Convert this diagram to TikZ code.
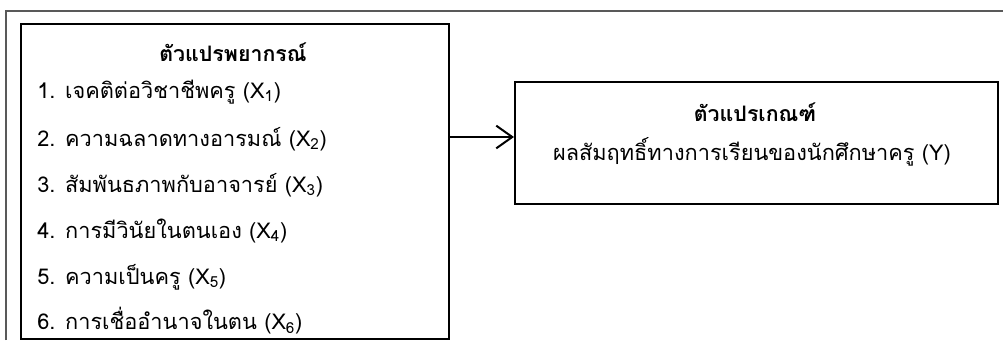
\documentclass[tikz,border=0pt]{standalone}
\usepackage{fontspec}
\newfontfamily\thaifont[Script=Thai]{Loma}
\usepackage{tikz}
\usetikzlibrary{arrows.meta}

\begin{document}
\begin{tikzpicture}[x=0.75pt, y=-0.75pt,
	every node/.style={font=\thaifont\fontsize{16.3}{19}\selectfont, inner sep=0pt},
	box/.style={draw=black, line width=1.6pt, anchor=north west},
	item/.style={anchor=west},
	heading/.style={font=\thaifont\bfseries\fontsize{16}{19}\selectfont},
	arrowline/.style={draw=black, line width=1.5pt, -{Straight Barb[length=12pt, width=17pt, line width=1.5pt]}}]
				\useasboundingbox (0,0) rectangle (1003,340);
				% outer frame
				\draw[line width=1.5pt, draw=black!65] (6,340) -- (6,11) -- (1003,11);
				
				\node[box, minimum width=428*0.75pt, minimum height=315*0.75pt] (leftbox) at (20,23){};
				\node[box, minimum width=483*0.75pt, minimum height=122*0.75pt] (rightbox) at (514,81){};
				
				\node[heading] (lefttitle) at (233,52){ตัวแปรพยากรณ์};
				\node[item] (x1) at (37,92){1. เจคติต่อวิชาชีพครู (X\textsubscript{1})};
				\node[item] (x2) at (37,139){2. ความฉลาดทางอารมณ์ (X\textsubscript{2})};
				\node[item] (x3) at (37,185){3. สัมพันธภาพกับอาจารย์ (X\textsubscript{3})};
				\node[item] (x4) at (37,231){4. การมีวินัยในตนเอง (X\textsubscript{4})};
				\node[item] (x5) at (37,277){5. ความเป็นครู (X\textsubscript{5})};
				\node[item] (x6) at (37,321){6. การเชื่ออำนาจในตน (X\textsubscript{6})};
				
				\node[heading] (righttitle) at (755,112){ตัวแปรเกณฑ์};
				\node (y) at (752,152){ผลสัมฤทธิ์ทางการเรียนของนักศึกษาครู (Y)};
				
				\coordinate (arrowstart) at (448,137);
				\path[arrowline] (arrowstart) -- (arrowstart -| rightbox.west);
				\end{tikzpicture}
\end{document}
